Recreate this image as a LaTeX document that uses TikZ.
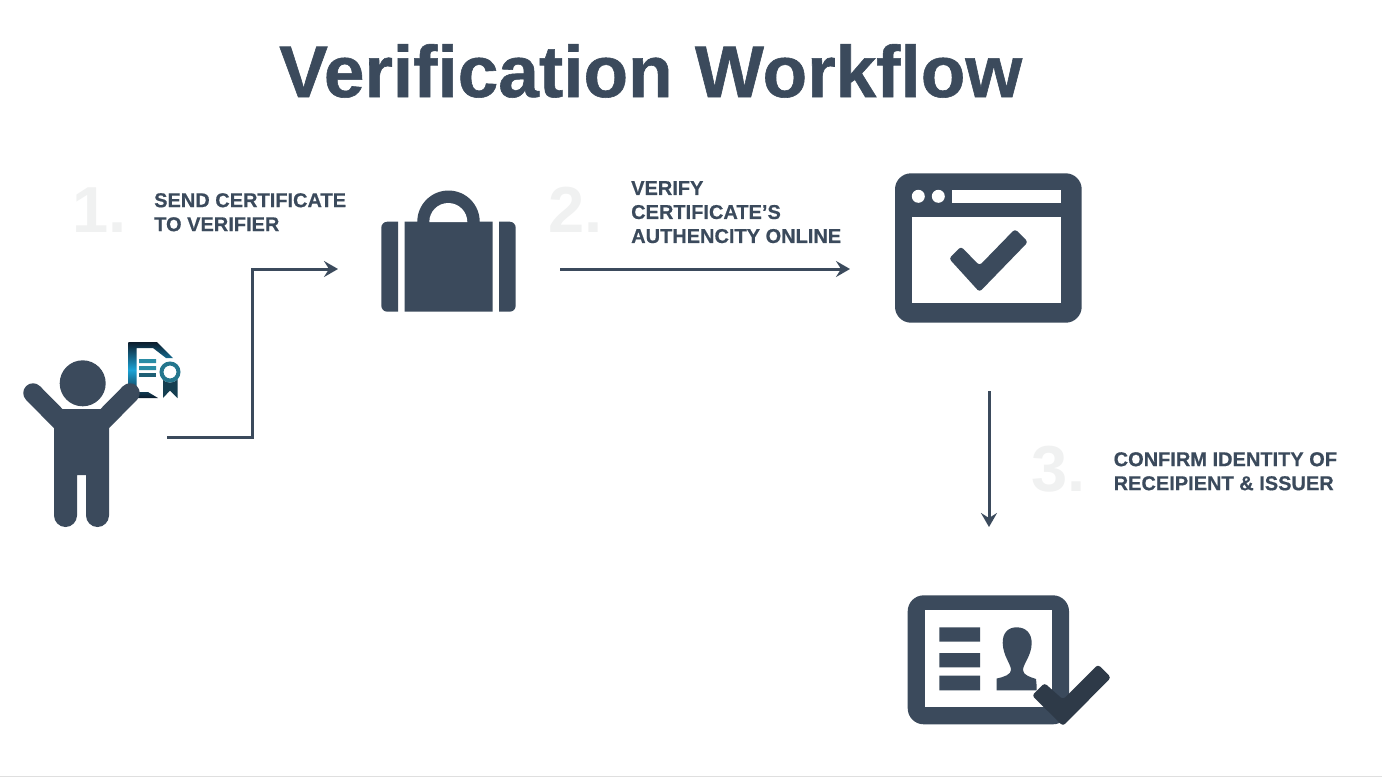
\documentclass[tikz,border=0pt]{standalone}
\usepackage{fontspec}
\setmainfont{Liberation Sans}
\newfontfamily\heavyTitle[FakeBold=0.8]{Liberation Sans Bold}
\newfontfamily\heavyText[FakeBold=0.5]{Liberation Sans Bold}
\usetikzlibrary{arrows.meta}
\definecolor{slate}{HTML}{3B4A5C}
\definecolor{darkcheck}{HTML}{2E3A48}
\definecolor{faint}{HTML}{F0F1F1}
\definecolor{teal}{HTML}{2A8CA5}
\definecolor{navy}{HTML}{0C1C2C}
\definecolor{cyanmid}{HTML}{1BA3D6}
\tikzset{
  conn/.style={draw=slate,line width=3pt,-{Stealth[length=14pt,width=16pt,inset=5pt]}},
  icon/.style={fill=slate,draw=none},
  title/.style={font=\fontsize{73}{80}\heavyTitle,text=slate,anchor=base west,inner sep=0pt},
  numeral/.style={font=\fontsize{65}{70}\selectfont\bfseries,text=faint,anchor=base west,inner sep=0pt},
  steptext/.style={font=\fontsize{20}{24}\heavyText,text=slate,anchor=north west,inner sep=0pt,align=left}
}
\begin{document}
\begin{tikzpicture}[x=1pt,y=-1pt]
\useasboundingbox (0,0) rectangle (1382,777);
\fill[white] (0,0) rectangle (1382,777);
\fill[gray!25] (0,776) rectangle (1382,777);
\node[title] (ttl) at (279,97) {Verification\hspace{2pt} Workflow};
\node[numeral] (n1) at (72,232) {1.};
\node[numeral] (n2) at (548,232) {2.};
\node[numeral] (n3) at (1031,491) {3.};
\node[steptext] (t1) at (154,193) {SEND CERTIFICATE\\TO VERIFIER};
\node[steptext] (t2) at (631,181) {VERIFY\\CERTIFICATE’S\\AUTHENCITY ONLINE};
\node[steptext] (t3) at (1113.5,452) {CONFIRM IDENTITY OF\\RECEIPIENT \& ISSUER};
% certificate
\shade[top color=navy,bottom color=navy,middle color=cyanmid]
  (128.3,342) -- (157,342) -- (173,358) -- (166,358) -- (153,348) -- (136.5,348) -- (136.5,392) -- (148,392) -- (158,398) -- (128.3,398) -- cycle;
\fill[teal] (139,359) rectangle (156,363) (139,366) rectangle (156,370);
\fill[teal!60!navy] (139,373) rectangle (156,377);
\fill[navy!70!teal] (163,379) -- (177.5,379) -- (177.5,398) -- (170,390.5) -- (163,398) -- cycle;
\fill[white] (170,372) circle (10.5);
\draw[teal!80!navy,line width=4pt] (170,372) circle (8.5);
% person
\fill[icon] (82.7,383.3) circle (23);
\draw[slate,line width=19.5pt,line cap=round] (33,393) -- (70,430.5);
\draw[slate,line width=19.5pt,line cap=round] (130,393) -- (93,430.5);
\fill[icon] (62,409) -- (101,409) -- (109,428) -- (109,515.5) arc (0:180:11.5) -- (86,475) -- (77,475) -- (77,515.5) arc (0:180:11.5) -- (54,428) -- cycle;
% case
\fill[icon] (398,221.7) -- (398,311.7) -- (387.3,311.7) arc (90:180:6) -- (381.3,227.7) arc (180:270:6) -- cycle;
\fill[icon] (499,221.7) -- (499,311.7) -- (509.7,311.7) arc (90:0:6) -- (515.7,227.7) arc (360:270:6) -- cycle;
\fill[icon] (404.7,221.7) -- (417.3,221.7) arc (180:360:31.2) -- (492.7,221.7) -- (492.7,311.7) -- (404.7,311.7) -- cycle;
\fill[white] (429.3,222) arc (180:360:19) -- cycle;
% browser
\fill[icon,rounded corners=16pt] (895,173.3) rectangle (1081.7,322.7);
\fill[white] (911.7,216.7) rectangle (1061,302.7);
\fill[white] (951.7,190) rectangle (1061,202.7);
\fill[white] (918.3,196.3) circle (6.5) (938.3,196.3) circle (6.5);
\fill[icon,rounded corners=3pt] (949,258.5) -- (961,246.5) -- (979.5,265.5) -- (1015,229) -- (1028,242) -- (979.5,292) -- cycle;
% id card
\fill[icon,rounded corners=16pt] (907.7,595.3) rectangle (1069,724.3);
\fill[white] (925,610) rectangle (1052.3,707.3);
\fill[icon] (939.3,627.3) rectangle (980,641.7) (939.3,653) rectangle (980,667.3) (939.3,675.7) rectangle (980,690.3);
\fill[icon] (996.7,690.3) -- (996.7,678.5) .. controls (1004,677) and (1011,674.5) .. (1011,670)
  .. controls (1011,664) and (1003,656) .. (1002.7,643) .. controls (1002.5,633) and (1008,627.3) .. (1016.7,627.3)
  .. controls (1025.5,627.3) and (1031.7,633) .. (1031.7,643) .. controls (1031.5,656) and (1023,664) .. (1023,670)
  .. controls (1023,675) and (1030,677) .. (1036,679) .. controls (1036.5,683) and (1036.7,686) .. (1036.7,690.3) -- cycle;
\fill[darkcheck,rounded corners=3pt] (1032,695.5) -- (1044.5,683) -- (1063,699.5) -- (1098,664.5) -- (1111,677.5) -- (1063,726) -- cycle;
% connectors
\coordinate (a1s) at (167,437);
\coordinate (a1b) at (252,437);
\coordinate (a1c) at (252,269);
\coordinate (a1e) at (338,269);
\coordinate (a2s) at (560,269);
\coordinate (a2e) at (850,269);
\coordinate (a3s) at (989,391);
\coordinate (a3e) at (989,527);
\draw[conn] (a1s) -- (a1b) -- (a1c) -- (a1e);
\draw[conn] (a2s) -- (a2e);
\draw[conn] (a3s) -- (a3e);
\end{tikzpicture}
\end{document}
